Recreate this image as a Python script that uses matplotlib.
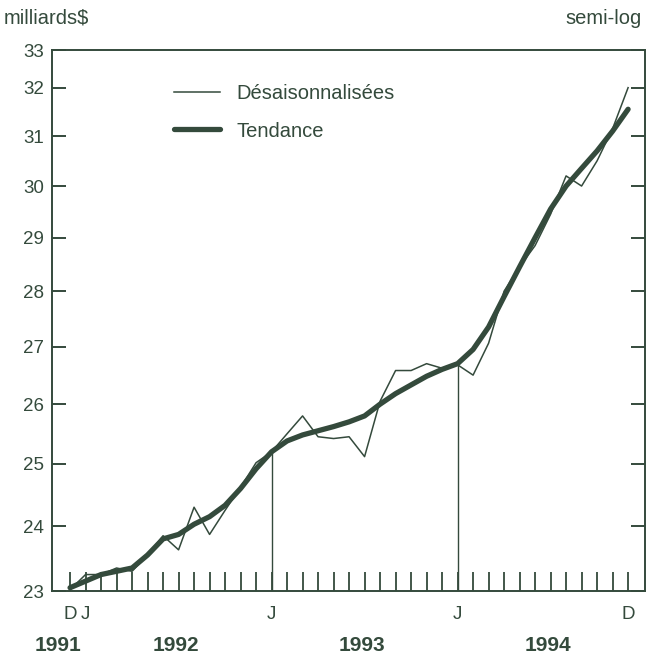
import matplotlib
matplotlib.use("Agg")
import matplotlib.pyplot as plt
from matplotlib.ticker import NullLocator, FixedLocator, FixedFormatter

plt.rcParams["font.family"] = ["Liberation Sans", "DejaVu Sans"]

INK = "#344a3c"

# months from Dec 1991 (0) to Dec 1994 (36)
months = list(range(37))

# seasonally adjusted series, billions $
desaison = [23.02, 23.25, 23.25, 23.35, 23.3, 23.55, 23.85, 23.63, 24.3, 23.87,
            24.25, 24.62, 25.02, 25.2, 25.5, 25.8, 25.45, 25.42, 25.45, 25.12,
            26.05, 26.58, 26.58, 26.7, 26.62, 26.68, 26.5, 27.06, 28.0, 28.45,
            28.85, 29.45, 30.2, 30.0, 30.5, 31.15, 32.0]

# trend series
tendance = [23.05, 23.15, 23.25, 23.3, 23.35, 23.55, 23.8, 23.87, 24.03, 24.15,
            24.33, 24.6, 24.92, 25.2, 25.38, 25.48, 25.55, 25.62, 25.7, 25.8,
            26.0, 26.18, 26.33, 26.48, 26.6, 26.7, 26.95, 27.35, 27.9, 28.45,
            29.0, 29.55, 30.0, 30.35, 30.7, 31.1, 31.55]

y_ticks = [23, 24, 25, 26, 27, 28, 29, 30, 31, 32]
y_top = 32.8   # frame top, labelled "33" on the original
month_labels = {0: "D", 1: "J", 13: "J", 25: "J", 36: "D"}
years = ["1991", "1992", "1993", "1994"]
year_pos = [-0.8, 6.8, 18.8, 30.8]
guide_months = [13, 25]

fig = plt.figure(figsize=(6.51, 6.60), dpi=100)
ax = fig.add_axes([0.080, 0.1045, 0.911, 0.8197])

ax.plot(months, desaison, color=INK, lw=1.1, label="Désaisonnalisées")
ax.plot(months, tendance, color=INK, lw=3.8, solid_capstyle="round", label="Tendance")

# thin vertical guides at January of each year
for m in guide_months:
    ax.vlines(m, 23, desaison[m], color=INK, lw=1.0)

ax.set_yscale("log")
ax.set_ylim(23, y_top)
ax.set_xlim(-1.16, 37.1)

ax.yaxis.set_major_locator(FixedLocator(y_ticks + [y_top]))
ax.yaxis.set_major_formatter(FixedFormatter([str(v) for v in y_ticks] + ["33"]))
ax.yaxis.set_minor_locator(NullLocator())
ax.tick_params(axis="y", which="major", direction="in", length=10, width=1.4,
               left=True, right=True, labelsize=13.5, labelcolor=INK, color=INK, pad=6)

ax.xaxis.set_major_locator(FixedLocator(months))
ax.xaxis.set_major_formatter(FixedFormatter([month_labels.get(m, "") for m in months]))
ax.xaxis.set_minor_locator(NullLocator())
ax.tick_params(axis="x", which="major", direction="in", length=14, width=1.3,
               labelsize=13.5, labelcolor=INK, color=INK, pad=11)

for s in ax.spines.values():
    s.set_color(INK)
    s.set_linewidth(1.4)

for yr, xp in zip(years, year_pos):
    ax.text(xp, -0.1, yr, transform=ax.get_xaxis_transform(), ha="center", va="center",
            fontsize=15, fontweight="bold", color=INK)

fig.text(0.005, 0.972, "milliards$", ha="left", va="center", fontsize=14.5, color=INK)
fig.text(0.985, 0.972, "semi-log", ha="right", va="center", fontsize=14.5, color=INK)

leg = ax.legend(loc="upper left", bbox_to_anchor=(0.175, 0.97), frameon=False,
                fontsize=14.5, handlelength=2.3, handletextpad=0.8, labelspacing=0.9)
for t in leg.get_texts():
    t.set_color(INK)

fig.savefig("out.png", dpi=100)
